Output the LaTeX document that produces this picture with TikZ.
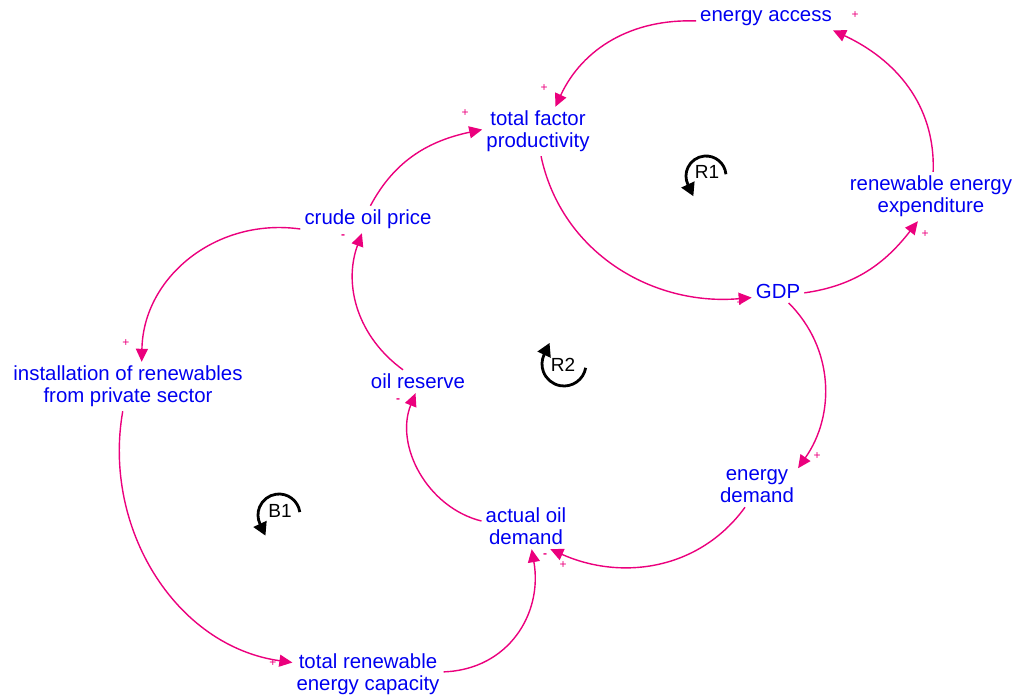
\documentclass[tikz,border=0pt]{standalone}
\usepackage{fontspec}
\setmainfont{Liberation Sans}
\usetikzlibrary{arrows.meta}
\definecolor{linkpink}{RGB}{235,0,125}
\definecolor{varblue}{RGB}{0,0,240}

\begin{document}
\begin{tikzpicture}[x=1pt,y=1pt,
  var/.style={text=varblue, font=\fontsize{20.4}{22}\selectfont, align=center, inner sep=4pt},
  link/.style={draw=linkpink, line width=1.4pt, -{Triangle[length=13pt,width=12pt]}},
  pol/.style={text=linkpink, font=\fontsize{12}{12}\selectfont, inner sep=0pt},
  neg/.style={text=linkpink, font=\bfseries\fontsize{12}{12}\selectfont, inner sep=0pt},
  looplabel/.style={font=\fontsize{19}{19}\selectfont, inner sep=0pt},
  loopsym/.style={line width=2.8pt, -{Triangle[length=13pt,width=14pt]}}]

\useasboundingbox (0,0) rectangle (1012,-696);

% variables
\node[var] (ea)    at (766,-18.5)  {energy access};
\node[var] (tfp)   at (538,-131.5) {total factor\\productivity};
\node[var] (rexp)  at (931,-196.5) {renewable energy\\expenditure};
\node[var] (cop)   at (368,-219.5) {crude oil price};
\node[var] (gdp)   at (778,-291.5) {GDP};
\node[var] (inst)  at (128,-386.5) {installation of renewables\\from private sector};
\node[var] (ores)  at (418,-381.5) {oil reserve};
\node[var] (ed)    at (757,-486.5) {energy\\demand};
\node[var] (aod)   at (526,-526.5) {actual oil\\demand};
\node[var] (trc)   at (368,-674.5) {total renewable\\energy capacity};

% causal links
\draw[link] (rexp.85)  to[out=88,in=-25]  (ea.-10);
\draw[link] (ea.182)   to[out=178,in=65]  (tfp.55);
\draw[link] (cop.80)   to[out=62,in=192]  (tfp.178);
\draw[link] (tfp.-83)  to[out=-78,in=185] (gdp.193);
\draw[link] (gdp.-3)   to[out=8,in=232]   (rexp.242);
\draw[link] (gdp.-47)  to[out=-45,in=55]  (ed.24);
\draw[link] (ed.240)   to[out=234,in=-24] (aod.-43);
\draw[link] (aod.173)  to[out=166,in=248] (ores.258);
\draw[link] (ores.142) to[out=144,in=250] (cop.246);
\draw[link] (cop.188)  to[out=172,in=89,looseness=1.05] (inst.61);
\draw[link] (inst.258) to[out=-100,in=172] (trc.171);
\draw[link] (trc.2)    to[out=2,in=280,looseness=1.1] (aod.284);

% link polarities
\node[pol] (p1)  at (855,-15)  {+};
\node[pol] (p2)  at (544,-88)  {+};
\node[pol] (p3)  at (465,-113) {+};
\node[pol] (p4)  at (740,-303) {+};
\node[pol] (p5)  at (925,-234) {+};
\node[pol] (p6)  at (817,-456) {+};
\node[pol] (p7)  at (563,-565) {+};
\node[neg] (p8)  at (545,-556) {-};
\node[neg] (p9)  at (398,-401) {-};
\node[neg] (p10) at (343,-237) {-};
\node[pol] (p11) at (126,-343) {+};
\node[pol] (p12) at (273,-663) {+};

% loop markers
\node[looplabel] (r1) at (707,-172) {R1};
\coordinate (r1c) at (706,-176);
\draw[loopsym] ([shift={(5:20)}]r1c) arc[start angle=5,end angle=205,radius=20] -- ++(-65:13);

\node[looplabel] (r2) at (563,-365) {R2};
\coordinate (r2c) at (564,-364);
\draw[loopsym] ([shift={(-10:22)}]r2c) arc[start angle=-10,end angle=-205,radius=22] -- ++(65:13);

\node[looplabel] (b1) at (280,-511) {B1};
\coordinate (b1c) at (279,-515);
\draw[loopsym] ([shift={(8:21)}]b1c) arc[start angle=8,end angle=205,radius=21] -- ++(-65:13);
\end{tikzpicture}
\end{document}
